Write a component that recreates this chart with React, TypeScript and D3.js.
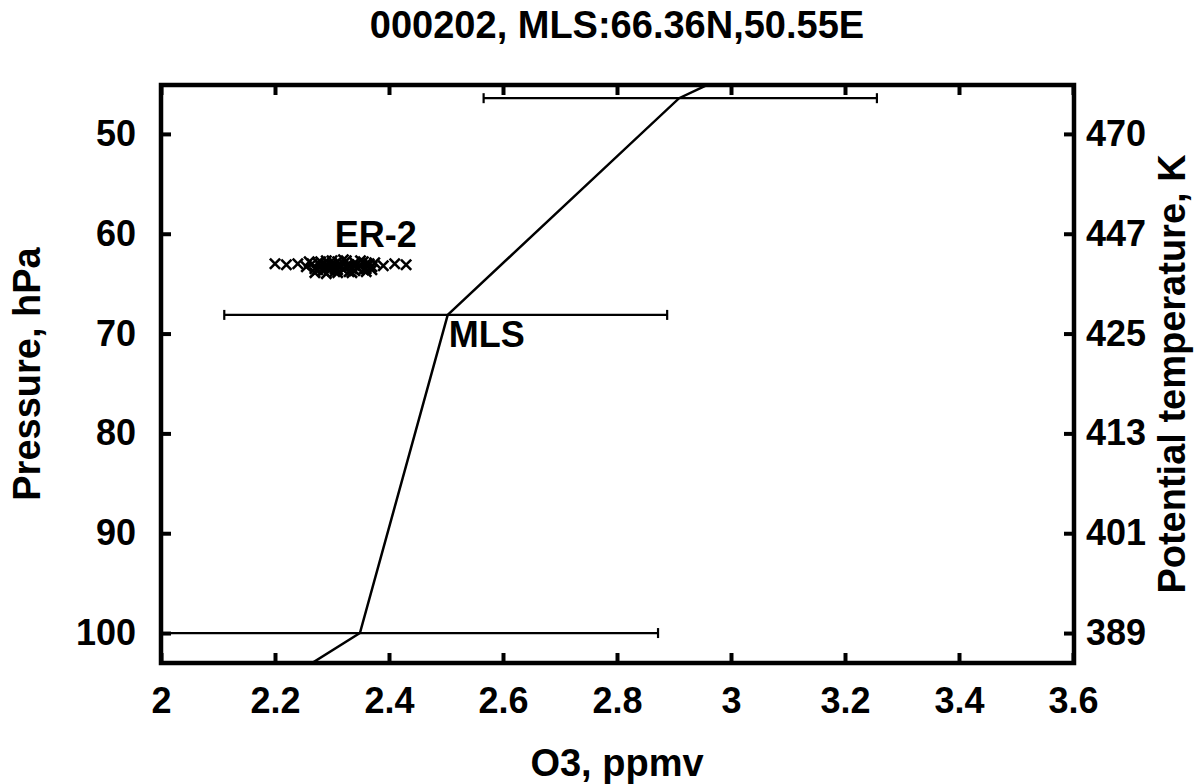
import React from "react";
import * as d3 from "d3";

const chartTitle = "000202, MLS:66.36N,50.55E";
const xTickValues = [2, 2.2, 2.4, 2.6, 2.8, 3, 3.2, 3.4, 3.6];
const pressureTicks = [50, 60, 70, 80, 90, 100];
const thetaLabels = ["470", "447", "425", "413", "401", "389"];

// MLS profile (O3 ppmv at standard pressure levels)
const mlsPressure = [31.62, 46.42, 68.13, 100, 146.8];
const mlsO3 = [3.46, 2.909, 2.503, 2.349, 1.04];

// MLS error bars
const errPressure = [46.42, 68.13, 100];
const errLow = [2.566, 2.111, 1.826];
const errHigh = [3.256, 2.888, 2.872];

// ER-2 in situ samples near 63 hPa
const er2O3 = [
  2.2, 2.22, 2.24, 2.255, 2.26, 2.27, 2.275, 2.28, 2.285, 2.29, 2.295, 2.3,
  2.305, 2.31, 2.315, 2.32, 2.325, 2.33, 2.335, 2.34, 2.345, 2.35, 2.355, 2.36,
  2.365, 2.37, 2.375, 2.27, 2.28, 2.29, 2.3, 2.31, 2.32, 2.33, 2.34, 2.35, 2.36,
  2.285, 2.305, 2.325, 2.345, 2.365, 2.39, 2.41, 2.43, 2.265, 2.275, 2.295,
  2.315, 2.335, 2.355, 2.37, 2.28, 2.3, 2.32, 2.34, 2.36, 2.29, 2.31, 2.33,
];
const er2P = [
  63.0, 63.1, 63.0, 63.3, 62.8, 63.5, 62.9, 63.2, 63.7, 62.7, 63.4, 63.0,
  63.8, 62.8, 63.3, 63.6, 62.7, 63.1, 63.9, 62.9, 63.4, 63.2, 62.8, 63.5,
  63.0, 63.3, 62.9, 63.9, 62.8, 64.0, 62.7, 63.9, 62.6, 63.8, 63.7, 62.7, 63.8,
  63.4, 63.5, 63.3, 63.4, 63.1, 63.2, 63.0, 63.1, 63.0, 63.6, 63.6, 63.1, 63.5,
  63.6, 63.6, 63.2, 63.3, 63.0, 63.2, 63.0, 63.1, 63.6, 63.3,
];

const FONT = "'Liberation Sans', Arial, Helvetica, sans-serif";

export default function App() {
  const width = 1198;
  const height = 784;
  const left = 161;
  const right = 1073;
  const top = 85;
  const bottom = 663;

  const svgRef = React.useRef<SVGSVGElement>(null);

  const xScale = d3.scaleLinear().domain([2, 3.6]).range([left, right]);
  const yScale = d3.scaleLinear().domain([45.1, 103]).range([top, bottom]);

  React.useEffect(() => {
    const svg = d3.select(svgRef.current);

    const styleAxis = (g: any) => {
      g.select(".domain").remove();
      g.selectAll(".tick line").attr("stroke", "#000").attr("stroke-width", 4);
      g.selectAll(".tick text")
        .attr("fill", "#000")
        .style("font-family", FONT)
        .style("font-weight", "bold")
        .style("font-size", "36px");
    };

    svg
      .select(".x-axis")
      .attr("transform", `translate(0,${bottom})`)
      .call(
        d3
          .axisBottom(xScale)
          .tickValues(xTickValues)
          .tickSize(-10)
          .tickPadding(24)
          .tickFormat((d: any) => String(d))
      )
      .call(styleAxis);

    svg
      .select(".x-axis-top")
      .attr("transform", `translate(0,${top})`)
      .call(d3.axisTop(xScale).tickValues(xTickValues).tickSize(-10).tickFormat(() => ""))
      .call(styleAxis);

    svg
      .select(".y-axis")
      .attr("transform", `translate(${left},0)`)
      .call(
        d3
          .axisLeft(yScale)
          .tickValues(pressureTicks)
          .tickSize(-10)
          .tickPadding(25)
          .tickFormat((d: any) => String(d))
      )
      .call(styleAxis);

    svg
      .select(".y-axis-right")
      .attr("transform", `translate(${right + 1},0)`)
      .call(
        d3
          .axisRight(yScale)
          .tickValues(pressureTicks)
          .tickSize(-10)
          .tickPadding(12)
          .tickFormat((d: any, i: number) => thetaLabels[i])
      )
      .call(styleAxis);

    const plot = svg.select(".plot");

    const line = d3
      .line<number>()
      .x((d) => xScale(d))
      .y((d, i) => yScale(mlsPressure[i]));

    plot
      .selectAll(".mls-line")
      .data([mlsO3])
      .join("path")
      .attr("class", "mls-line")
      .attr("d", line)
      .attr("fill", "none")
      .attr("stroke", "#000")
      .attr("stroke-width", 2.5);

    const bars = plot
      .selectAll(".err")
      .data(errPressure)
      .join("g")
      .attr("class", "err");
    bars
      .append("line")
      .attr("x1", (d, i) => xScale(errLow[i]))
      .attr("x2", (d, i) => xScale(errHigh[i]))
      .attr("y1", (d) => yScale(d))
      .attr("y2", (d) => yScale(d))
      .attr("stroke", "#000")
      .attr("stroke-width", 2.2);
    bars
      .append("line")
      .attr("x1", (d, i) => xScale(errLow[i]))
      .attr("x2", (d, i) => xScale(errLow[i]))
      .attr("y1", (d) => yScale(d) - 5)
      .attr("y2", (d) => yScale(d) + 5)
      .attr("stroke", "#000")
      .attr("stroke-width", 2.2);
    bars
      .append("line")
      .attr("x1", (d, i) => xScale(errHigh[i]))
      .attr("x2", (d, i) => xScale(errHigh[i]))
      .attr("y1", (d) => yScale(d) - 5)
      .attr("y2", (d) => yScale(d) + 5)
      .attr("stroke", "#000")
      .attr("stroke-width", 2.2);

    const cross = d3.symbol().type(d3.symbolX).size(70);
    plot
      .selectAll(".er2")
      .data(er2O3)
      .join("path")
      .attr("class", "er2")
      .attr("d", cross)
      .attr("transform", (d, i) => `translate(${xScale(d)},${yScale(er2P[i])})`)
      .attr("fill", "none")
      .attr("stroke", "#000")
      .attr("stroke-width", 2.6);
  }, []);

  return (
    <svg
      ref={svgRef}
      width={width}
      height={height}
      style={{ position: "absolute", left: 0, top: 0, background: "#fff" }}
    >
      <defs>
        <clipPath id="plot-clip">
          <rect x={left} y={top} width={right - left} height={bottom - top} />
        </clipPath>
      </defs>
      <g className="plot" clipPath="url(#plot-clip)" />
      <rect
        x={left}
        y={top}
        width={right - left + 1}
        height={bottom - top}
        fill="none"
        stroke="#000"
        strokeWidth={4.5}
      />
      <g className="x-axis" />
      <g className="x-axis-top" />
      <g className="y-axis" />
      <g className="y-axis-right" />
      <g fontFamily={FONT} fontWeight="bold" fontSize={38} fill="#000">
        <text x={(left + right) / 2} y={38} textAnchor="middle">
          {chartTitle}
        </text>
        <text x={(left + right) / 2} y={776} textAnchor="middle">
          O3, ppmv
        </text>
        <text
          transform={`translate(40,${(top + bottom) / 2}) rotate(-90)`}
          textAnchor="middle"
        >
          Pressure, hPa
        </text>
        <text
          transform={`translate(1185,${(top + bottom) / 2}) rotate(-90)`}
          textAnchor="middle"
        >
          Potential temperature, K
        </text>
      </g>
      <g fontFamily={FONT} fontWeight="bold" fontSize={36} fill="#000">
        <text x={xScale(2.305)} y={yScale(61.3)}>
          ER-2
        </text>
        <text x={xScale(2.503) + 1} y={yScale(68.13) + 32}>
          MLS
        </text>
      </g>
    </svg>
  );
}
